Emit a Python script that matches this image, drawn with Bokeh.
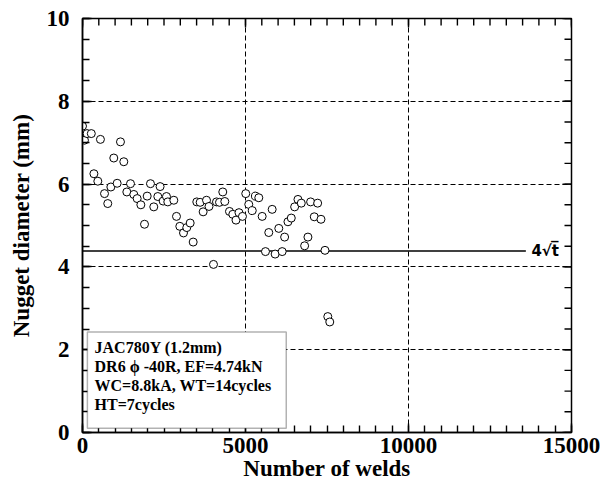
import numpy as np
from bokeh.plotting import figure
from bokeh.models import Range1d, BoxAnnotation, Label, FixedTicker, ColumnDataSource
from bokeh.embed import file_html
from bokeh.resources import INLINE

# Nugget diameter measured along the electrode life test
welds = [0, 60, 140, 270, 350, 470, 550, 675, 775, 870, 960, 1063, 1165, 1267,
         1360, 1472, 1574, 1677, 1790, 1902, 1984, 2085, 2187, 2310, 2380, 2474,
         2576, 2616, 2801, 2883, 2985, 3098, 3199, 3303, 3395, 3506, 3609, 3701,
         3804, 3880, 4018, 4110, 4202, 4303, 4365, 4508, 4610, 4708, 4800, 4907,
         5008, 5100, 5208, 5306, 5408, 5511, 5613, 5714, 5818, 5909, 6021, 6125,
         6200, 6302, 6404, 6507, 6609, 6711, 6814, 6915, 6997, 7109, 7213, 7315,
         7438, 7524, 7585]
diameter = [7.40, 7.06, 7.22, 7.22, 6.25, 6.07, 7.08, 5.77, 5.53, 5.93, 6.63, 6.02,
            7.02, 6.54, 5.81, 6.01, 5.75, 5.65, 5.50, 5.03, 5.71, 6.01, 5.45, 5.70,
            5.94, 5.59, 5.70, 5.57, 5.61, 5.22, 4.98, 4.82, 4.95, 5.06, 4.60, 5.57,
            5.56, 5.33, 5.61, 5.46, 4.06, 5.57, 5.56, 5.81, 5.58, 5.34, 5.27, 5.13,
            5.31, 5.22, 5.77, 5.51, 5.36, 5.71, 5.67, 5.22, 4.37, 4.83, 5.39, 4.31,
            4.93, 4.37, 4.72, 5.09, 5.18, 5.45, 5.63, 5.54, 4.51, 4.72, 5.57, 5.21,
            5.54, 5.15, 4.40, 2.80, 2.67]

# Sheet thickness (mm) and the 4*sqrt(t) minimum nugget criterion
thickness = 1.2
criterion = 4 * np.sqrt(thickness)
criterion_end = 13600

x_min, x_max = 0, 15000
y_min, y_max = 0, 10
x_major = [0, 5000, 10000, 15000]
x_minor = list(range(0, 15001, 500))
y_major = [0, 2, 4, 6, 8, 10]
y_minor = [i * 0.5 for i in range(21)]

info_lines = ["JAC780Y (1.2mm)",
              "DR6 \u03d5 -40R, EF=4.74kN",
              "WC=8.8kA, WT=14cycles",
              "HT=7cycles"]

SERIF = "Liberation Serif"

W, H = 606, 490
BL, BR, BT, BB = 82, 35, 18, 58
MAJOR_LEN, MINOR_LEN, TICK_W = 9, 7, 1.4

p = figure(width=W, height=H, x_range=Range1d(x_min, x_max),
           y_range=Range1d(y_min, y_max),
           output_backend="svg", toolbar_location=None,
           min_border_left=BL, min_border_right=BR, min_border_top=BT,
           min_border_bottom=BB, background_fill_color="white",
           border_fill_color="white")

p.outline_line_color = "black"
p.outline_line_width = 1.5

# Grid: dashed lines at the major ticks
p.xgrid.ticker = FixedTicker(ticks=x_major)
p.ygrid.ticker = FixedTicker(ticks=y_major)
for g in (p.xgrid, p.ygrid):
    g.grid_line_color = "black"
    g.grid_line_dash = "5 3"
    g.grid_line_width = 1

p.xaxis.ticker = FixedTicker(ticks=x_major, minor_ticks=x_minor)
p.yaxis.ticker = FixedTicker(ticks=y_major, minor_ticks=y_minor)

p.xaxis.axis_label = "Number of welds"
p.yaxis.axis_label = "Nugget diameter (mm)"

for ax in (p.xaxis, p.yaxis):
    ax.axis_line_width = 1.5
    ax.axis_line_color = "black"
    ax.major_tick_in = MAJOR_LEN
    ax.major_tick_out = 0
    ax.minor_tick_in = MINOR_LEN
    ax.minor_tick_out = 0
    ax.major_tick_line_color = "black"
    ax.minor_tick_line_color = "black"
    ax.major_tick_line_width = TICK_W
    ax.minor_tick_line_width = TICK_W
    ax.major_label_text_font = SERIF
    ax.major_label_text_font_style = "bold"
    ax.major_label_text_font_size = "23px"
    ax.major_label_text_color = "black"
    ax.axis_label_text_font = SERIF
    ax.axis_label_text_font_style = "bold"
    ax.axis_label_text_font_size = "23px"
    ax.axis_label_text_color = "black"

p.xaxis.major_label_standoff = 5
p.xaxis.axis_label_standoff = 0
p.yaxis.major_label_standoff = 13
p.yaxis.axis_label_standoff = 10

# Inward ticks mirrored on the top and right edges, drawn as short segments
# (tick length given in pixels, converted with the frame's scale)
dx_px = (x_max - x_min) / (W - BL - BR)
dy_px = (y_max - y_min) / (H - BT - BB)

def mirror_ticks(xvals, yvals, length_px, width):
    xv = np.asarray(xvals, dtype=float)
    yv = np.asarray(yvals, dtype=float)
    top = dict(x0=xv, y0=np.full_like(xv, y_max), x1=xv,
               y1=np.full_like(xv, y_max - length_px * dy_px))
    right = dict(x0=np.full_like(yv, x_max), y0=yv,
                 x1=np.full_like(yv, x_max - length_px * dx_px), y1=yv)
    for d in (top, right):
        p.segment(source=ColumnDataSource(d), x0="x0", y0="y0", x1="x1", y1="y1",
                  line_color="black", line_width=width)

mirror_ticks(x_minor, y_minor, MINOR_LEN, TICK_W)
mirror_ticks(x_major, y_major, MAJOR_LEN, TICK_W)

# Criterion line
p.line([0, criterion_end], [criterion, criterion], line_color="black", line_width=1.5)
p.add_layout(Label(x=criterion_end + 170, y=criterion, text="4\u221at\u0305",
                   text_font="DejaVu Sans", text_font_style="bold",
                   text_font_size="15px", text_baseline="middle", text_color="black"))

# Measurements
src = ColumnDataSource(dict(x=welds, y=diameter))
p.scatter("x", "y", source=src, marker="circle", size=8, fill_color="white",
          line_color="black", line_width=1)

# Test condition box
p.add_layout(BoxAnnotation(left=150, right=6250, bottom=0.1, top=2.43,
                           fill_color="white", fill_alpha=1.0,
                           line_color="black", line_width=1.5))
for i, line in enumerate(info_lines):
    p.add_layout(Label(x=370, y=2.06 - i * 0.46, text=line, text_font=SERIF,
                       text_font_style="bold", text_font_size="16px",
                       text_baseline="middle", text_color="black"))

open("out.html", "w").write(file_html(p, INLINE))
